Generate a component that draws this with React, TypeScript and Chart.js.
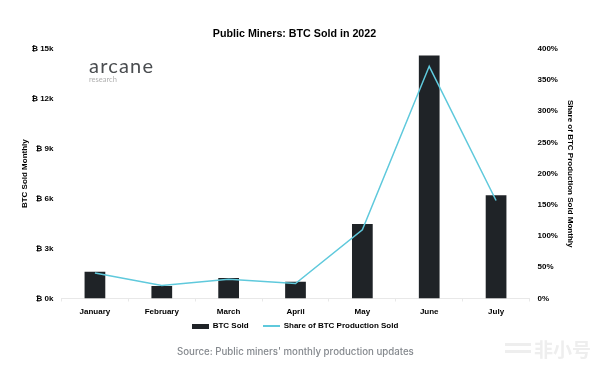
import React, { useEffect, useRef } from "react";
import { Chart, registerables } from "chart.js";

Chart.register(...registerables);

const categories = ["January", "February", "March", "April", "May", "June", "July"];
const btcSold = [1600, 750, 1230, 1000, 4480, 14600, 6200];
const shareSold = [41, 21, 31, 24, 110, 372, 157];
const leftTicks = [0, 3000, 6000, 9000, 12000, 15000];
const FONT = "'Liberation Sans', 'DejaVu Sans', sans-serif";
const DARK = "#1f2327";
const CYAN = "#5fc9dc";

function swatch(w: number, h: number, color: string) {
  const c = document.createElement("canvas");
  c.width = w;
  c.height = h;
  const ctx = c.getContext("2d")!;
  ctx.fillStyle = color;
  ctx.fillRect(0, 0, w, h);
  return c;
}

const legendPlacement = {
  id: "legendPlacement",
  beforeInit(chart: any) {
    const fit = chart.legend.fit;
    chart.legend.fit = function () {
      fit.call(this);
      this.height = 8.5;
    };
  },
  afterLayout(chart: any) {
    chart.legend.top -= 14.5;
    chart.legend.left -= 4;
    chart.legend.right -= 4;
    chart.titleBlock.left -= 4.5;
    chart.titleBlock.right -= 4.5;
  },
};

const abs = (s: React.CSSProperties): React.CSSProperties => ({ position: "absolute", whiteSpace: "nowrap", lineHeight: 1, ...s });

export default function App() {
  const ref = useRef<HTMLCanvasElement>(null);
  useEffect(() => {
    const tickFont = { family: FONT, size: 8, weight: "bold" as const };
    const chart = new Chart(ref.current!, {
      plugins: [legendPlacement],
      data: {
        labels: categories,
        datasets: [
          { type: "line", label: "Share of BTC Production Sold", data: shareSold, yAxisID: "y2", borderColor: CYAN, backgroundColor: CYAN, borderWidth: 1.5, pointRadius: 0, tension: 0, order: 0 },
          { type: "bar", label: "BTC Sold", data: btcSold, yAxisID: "y", backgroundColor: DARK, barPercentage: 0.31, categoryPercentage: 1, order: 1 },
        ],
      },
      options: {
        responsive: false,
        animation: false,
        layout: { padding: { top: 28, left: 20, right: 22, bottom: 35 } },
        plugins: {
          title: { display: true, text: "Public Miners: BTC Sold in 2022", color: "#000", font: { family: FONT, size: 10.7, weight: "bold" }, padding: { top: 0, bottom: 8 } },
          tooltip: { enabled: false },
          legend: {
            position: "bottom",
            labels: {
              color: "#000",
              font: tickFont,
              usePointStyle: true,
              pointStyleWidth: 17,
              boxHeight: 5,
              padding: 14,
              generateLabels: () => [
                { text: "BTC Sold", pointStyle: swatch(17, 5, DARK), fillStyle: DARK, strokeStyle: DARK, lineWidth: 0, datasetIndex: 1, fontColor: "#000" },
                { text: "Share of BTC Production Sold", pointStyle: swatch(17, 2, CYAN), fillStyle: CYAN, strokeStyle: CYAN, lineWidth: 0, datasetIndex: 0, fontColor: "#000" },
              ],
            },
          },
        },
        scales: {
          x: {
            grid: { drawOnChartArea: false, color: "#e8e8e8", tickLength: 3 },
            border: { color: "#e8e8e8" },
            ticks: { color: "#000", font: tickFont, maxRotation: 0, padding: 5.7 },
          },
          y: {
            position: "left",
            min: 0,
            max: 15000,
            afterBuildTicks: (s: any) => { s.ticks = leftTicks.map((value) => ({ value })); },
            grid: { display: false },
            border: { display: false },
            title: { display: true, text: "BTC Sold Monthly", color: "#000", font: tickFont, padding: { top: 0, bottom: 3 } },
            ticks: { color: "#000", font: tickFont, padding: 0, callback: (v: any) => `\u20BF ${Number(v) / 1000}k` },
            afterFit: (s: any) => { s.width = 41.5; },
          },
          y2: {
            position: "right",
            min: 0,
            max: 400,
            grid: { display: false },
            border: { display: false },
            title: { display: true, text: "Share of BTC Production Sold Monthly", color: "#000", font: tickFont, padding: { top: 3, bottom: 0 } },
            ticks: { color: "#000", font: tickFont, stepSize: 50, padding: 0, callback: (v: any) => `${v}%` },
            afterFit: (s: any) => { s.width = 48.5; },
          },
        },
      },
    } as any);
    return () => chart.destroy();
  }, []);
  return (
    <div style={{ position: "fixed", left: 0, top: 0, width: 600, height: 366, background: "#fff", overflow: "hidden" }}>
      <canvas ref={ref} width={600} height={366} style={{ display: "block" }} />
      <div style={abs({ left: 89, top: 55, fontFamily: "Lato", fontWeight: 400, fontSize: 20, letterSpacing: 1.2, color: "#4a4d50" })}>arcane</div>
      <div style={abs({ left: 89, top: 76, fontFamily: "Lato", fontWeight: 400, fontSize: 7.5, color: "#b0b0b0" })}>research</div>
      <div style={abs({ left: 177, top: 347, fontFamily: "Inter", fontWeight: 500, fontSize: 9.7, color: "#85898e" })}>Source: Public miners' monthly production updates</div>
      <div style={abs({ left: 505, top: 343, width: 26, height: 3, background: "#eeeeee" })} />
      <div style={abs({ left: 505, top: 350, width: 26, height: 3, background: "#eeeeee" })} />
      <div style={abs({ left: 534, top: 339, fontFamily: "'Noto Sans CJK SC'", fontWeight: 700, fontSize: 19, color: "#eeeeee" })}>非小号</div>
    </div>
  );
}
